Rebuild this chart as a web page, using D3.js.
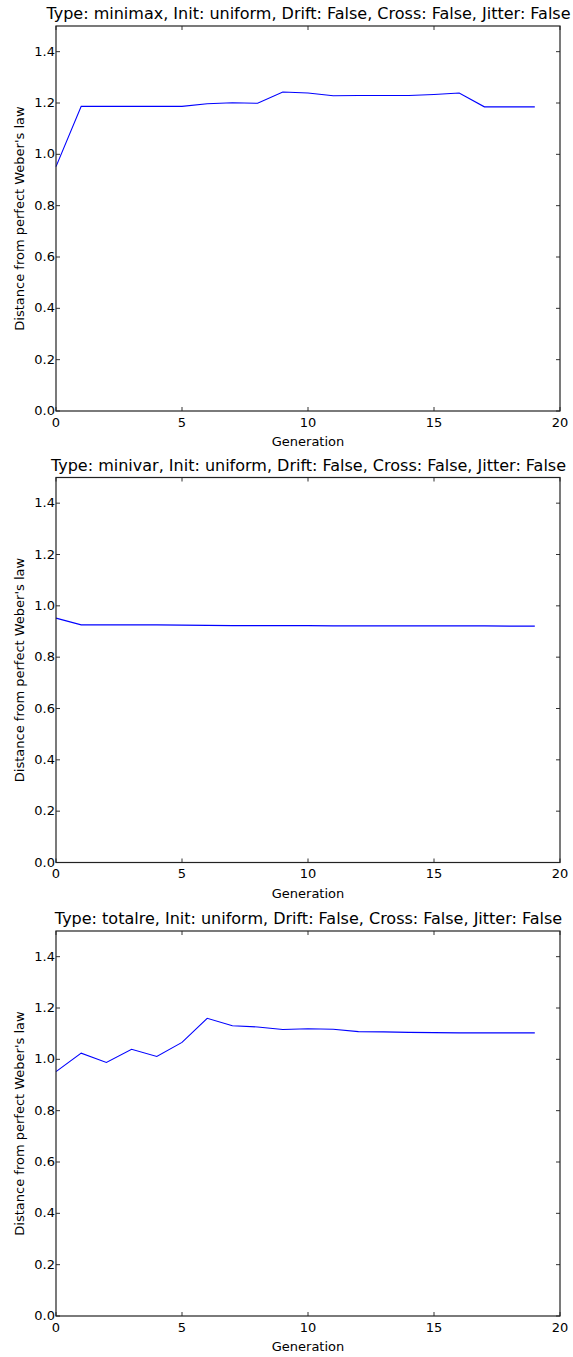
<!DOCTYPE html>
<html><head><meta charset="utf-8">
<script src="https://cdn.jsdelivr.net/npm/d3@7"></script>
<style>body{margin:0;background:#fff}svg{display:block}text{font-family:"DejaVu Sans",sans-serif;fill:#000}</style>
</head><body><svg id="c" width="573" height="1357"></svg>
<script>
const generations = d3.range(0, 20);
const titles = [
  "Type: minimax, Init: uniform, Drift: False, Cross: False, Jitter: False",
  "Type: minivar, Init: uniform, Drift: False, Cross: False, Jitter: False",
  "Type: totalre, Init: uniform, Drift: False, Cross: False, Jitter: False"
];
const minimaxValues = [0.952, 1.187, 1.187, 1.187, 1.187, 1.187, 1.197, 1.201, 1.199, 1.243, 1.239, 1.228, 1.229, 1.229, 1.229, 1.233, 1.239, 1.185, 1.185, 1.185];
const minivarValues = [0.952, 0.926, 0.926, 0.926, 0.926, 0.925, 0.924, 0.923, 0.923, 0.923, 0.923, 0.922, 0.922, 0.922, 0.922, 0.922, 0.922, 0.922, 0.921, 0.921];
const totalreValues = [0.952, 1.024, 0.988, 1.039, 1.011, 1.066, 1.160, 1.131, 1.126, 1.116, 1.119, 1.117, 1.108, 1.107, 1.105, 1.104, 1.103, 1.103, 1.103, 1.103];
const xTicks = [0, 5, 10, 15, 20];
const yTicks = [0.0, 0.2, 0.4, 0.6, 0.8, 1.0, 1.2, 1.4];
const xLabel = "Generation";
const yLabel = "Distance from perfect Weber's law";
const seriesList = [minimaxValues, minivarValues, totalreValues];

const svg = d3.select("#c");
const left = 56, right = 560, h = 385;
const tops = [26, 477.5, 931];
const x = d3.scaleLinear().domain([0, 20]).range([left, right]);

seriesList.forEach((vals, i) => {
  const top = tops[i], bottom = top + h;
  const y = d3.scaleLinear().domain([0, 1.5]).range([bottom, top]);
  const g = svg.append("g");
  g.append("path").datum(vals)
    .attr("fill", "none").attr("stroke", "#0000ff").attr("stroke-width", 1.1)
    .attr("d", d3.line().x((d, k) => x(generations[k])).y(d => y(d)));
  const tl = 4;
  xTicks.forEach(t => {
    g.append("line").attr("x1", x(t)).attr("x2", x(t)).attr("y1", bottom).attr("y2", bottom - tl).attr("stroke", "#333");
    g.append("line").attr("x1", x(t)).attr("x2", x(t)).attr("y1", top).attr("y2", top + tl).attr("stroke", "#333");
    g.append("text").attr("x", x(t)).attr("y", bottom + 15.5).attr("text-anchor", "middle").attr("font-size", 13).text(t);
  });
  yTicks.forEach(t => {
    g.append("line").attr("x1", left).attr("x2", left + tl).attr("y1", y(t)).attr("y2", y(t)).attr("stroke", "#333");
    g.append("line").attr("x1", right).attr("x2", right - tl).attr("y1", y(t)).attr("y2", y(t)).attr("stroke", "#333");
    g.append("text").attr("x", left - 1).attr("y", y(t) + 4).attr("text-anchor", "end").attr("font-size", 13).text(d3.format(".1f")(t));
  });
  g.append("rect").attr("x", left).attr("y", top).attr("width", right - left).attr("height", h)
    .attr("fill", "none").attr("stroke", "#222").attr("stroke-width", 1.2);
  g.append("text").attr("x", (left + right) / 2).attr("y", bottom + 35).attr("text-anchor", "middle").attr("font-size", 13).text(xLabel);
  g.append("text").attr("transform", `translate(24,${(top + bottom) / 2}) rotate(-90)`).attr("text-anchor", "middle").attr("font-size", 13).text(yLabel);
  g.append("text").attr("x", (left + right) / 2 + 0.5).attr("y", top - 7).attr("text-anchor", "middle").attr("font-size", 16).text(titles[i]);
});
</script></body></html>
